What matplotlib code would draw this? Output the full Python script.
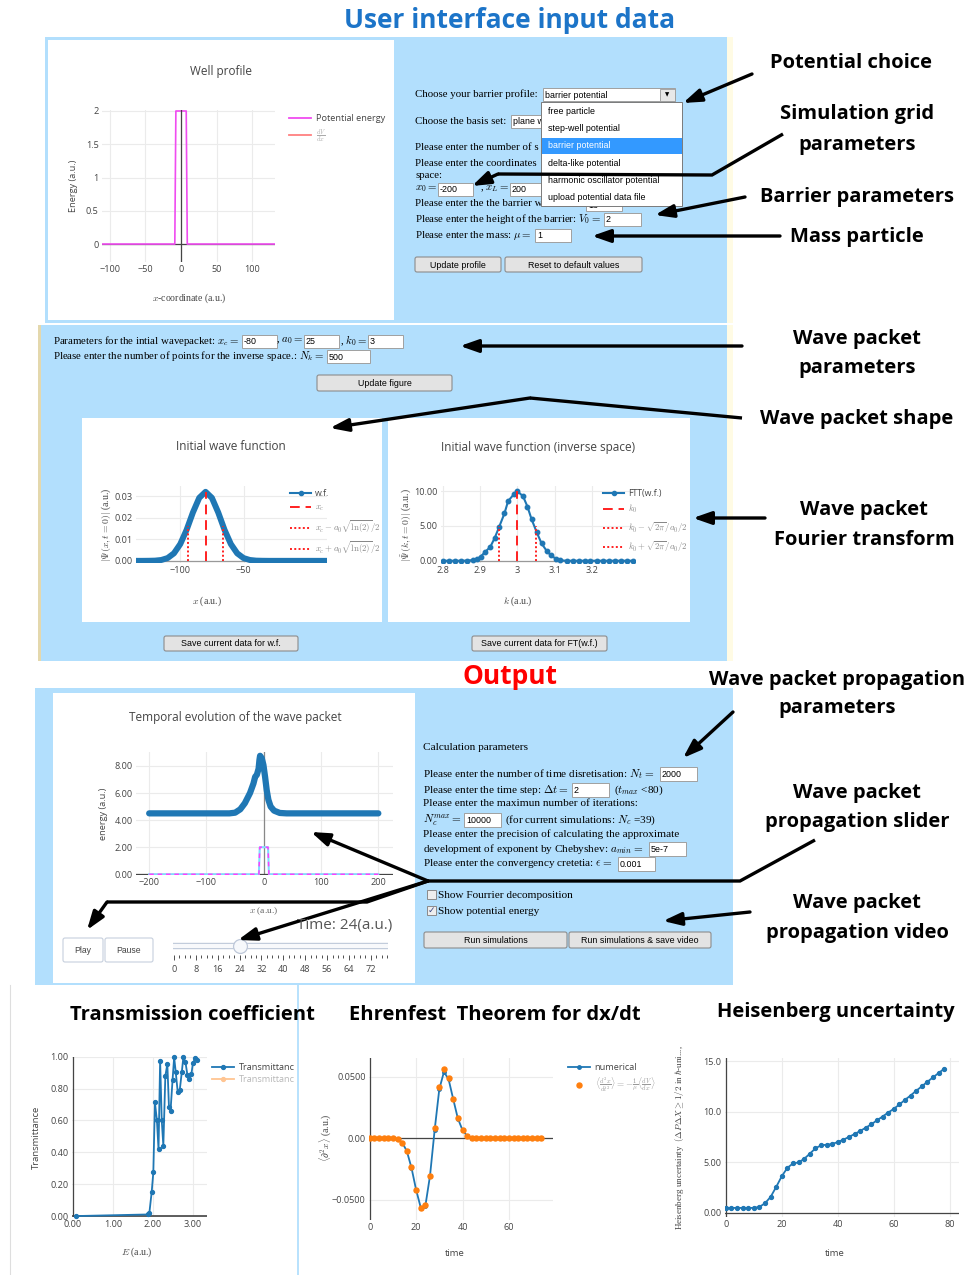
import matplotlib
matplotlib.use('Agg')
import matplotlib.pyplot as plt
from matplotlib.patches import Rectangle, FancyBboxPatch
from matplotlib.lines import Line2D
from matplotlib.ticker import FuncFormatter

plt.rcParams['mathtext.fontset'] = 'cm'
plt.rcParams['font.family'] = ['Open Sans', 'DejaVu Sans']

# ------------------------------------------------------------------ data
pot_x = [-200, -8.5, -7, 7.5, 9, 200]
pot_v = [0, 0, 2, 2, 0, 0]
well_xticks = [-100, -50, 0, 50, 100]
well_yticks = [0, 0.5, 1, 1.5, 2]

wf_x = [-135, -130, -125, -120, -115, -110, -105, -100, -95, -90, -85, -80,
        -75, -70, -65, -60, -55, -50, -45, -40, -35, -30, -25, -20, -15,
        -10, -5, 0, 5, 10, 16]
wf_y = [0, 0, 0.00003, 0.0001, 0.0004, 0.0013, 0.0035, 0.0078, 0.0144, 0.0225,
        0.0293, 0.0321, 0.0293, 0.0225, 0.0144, 0.0078, 0.0035, 0.0013, 0.0004,
        0.0001, 0.00003, 0, 0, 0, 0, 0, 0, 0, 0, 0, 0]
wf_xc = -80
wf_half_x = [-93.5, -66.5]
wf_half_h = 0.016
wf_xticks = [-100, -50]
wf_yticks = [0, 0.01, 0.02, 0.03]

ft_k = [2.800, 2.816, 2.832, 2.849, 2.865, 2.881, 2.890, 2.901, 2.912, 2.927,
        2.939, 2.951, 2.965, 2.975, 2.991, 3.000, 3.015, 3.027, 3.038, 3.052,
        3.065, 3.079, 3.090, 3.103, 3.116, 3.133, 3.149, 3.165, 3.181, 3.197,
        3.214, 3.230, 3.246, 3.262, 3.278, 3.296, 3.312]
ft_v = [0, 0, 0, 0, 0.02, 0.1, 0.2, 0.6, 1.2, 2.0,
        3.3, 4.9, 6.8, 8.6, 9.6, 10.0, 9.3, 7.8, 6.0, 4.1,
        2.5, 1.4, 0.8, 0.3, 0.05, 0, 0, 0, 0, 0,
        0, 0, 0, 0, 0, 0, 0]
ft_k0 = 3.0
ft_half_k = [2.95, 3.05]
ft_half_h = 5.0
ft_xticks = [2.8, 2.9, 3.0, 3.1, 3.2]
ft_yticks = [0, 5, 10]

tw_x = [-200, -150, -100, -60, -50, -41, -33, -24, -18, -15, -12, -9, -7.5,
        -6.4, -3.5, -0.6, 2.3, 5.2, 8.1, 12, 18, 28, 40, 100, 150, 200]
tw_y = [4.5, 4.5, 4.5, 4.5, 4.55, 4.8, 5.25, 6.0, 6.7, 7.2, 7.35, 7.8, 8.45,
        8.75, 8.57, 8.08, 7.2, 6.2, 5.5, 5.0, 4.7, 4.53, 4.5, 4.5, 4.5, 4.5]
tw_xticks = [-200, -100, 0, 100, 200]
tw_yticks = [0, 2, 4, 6, 8]

slider_frames = [0, 2, 4, 6, 8, 10, 12, 14, 16, 18, 20, 22, 24, 26, 28, 30, 32,
                 34, 36, 38, 40, 42, 44, 46, 48, 50, 52, 54, 56, 58, 60, 62, 64,
                 66, 68, 70, 72, 74, 76, 78]
slider_labels = [0, 8, 16, 24, 32, 40, 48, 56, 64, 72]
slider_value = 24

tr_E = [0.08, 1.87, 1.91, 1.97, 2.01, 2.05, 2.10, 2.14, 2.18, 2.22, 2.26, 2.31,
        2.36, 2.40, 2.44, 2.49, 2.53, 2.57, 2.62, 2.67, 2.72, 2.76, 2.81, 2.86,
        2.91, 2.96, 3.00, 3.06, 3.11]
tr_T = [0.0, 0.01, 0.017, 0.153, 0.274, 0.713, 0.60, 0.418, 0.975, 0.60, 0.441,
        0.879, 0.954, 0.686, 0.661, 0.854, 0.996, 0.902, 0.776, 0.791, 0.902,
        0.996, 0.969, 0.887, 0.858, 0.891, 0.962, 0.99, 0.979]
tr_xticks = [0, 1, 2, 3]
tr_yticks = [0, 0.2, 0.4, 0.6, 0.8, 1.0]

eh_t = [0, 2, 4, 6, 8, 10, 12, 14, 16, 18, 20, 22, 24, 26, 28, 30, 32, 34, 36,
        38, 40, 42, 44, 46, 48, 50, 52, 54, 56, 58, 60, 62, 64, 66, 68, 70, 72, 74]
eh_num = [0, 0, 0, 0, 0, 0, -0.0008, -0.0035, -0.0105, -0.0240, -0.0420, -0.0565,
          -0.0550, -0.0305, 0.0068, 0.0400, 0.0540, 0.0480, 0.0318, 0.0160, 0.0066,
          0.0018, 0.0003, 0, 0, 0, 0, 0, 0, 0, 0, 0, 0, 0, 0, 0, 0, 0]
eh_ehr = [0, 0, 0, 0, 0, 0, -0.0008, -0.0035, -0.0103, -0.0238, -0.0419, -0.0568,
          -0.0546, -0.0305, 0.0081, 0.0419, 0.0562, 0.0492, 0.0319, 0.0162, 0.0068,
          0.0019, 0.0003, 0, 0, 0, 0, 0, 0, 0, 0, 0, 0, 0, 0, 0, 0, 0]
eh_xticks = [0, 20, 40, 60]
eh_yticks = [-0.05, 0, 0.05]
eh_yticklabels = ['\u22120.0500', '0.00', '0.0500']

hu_t = [0, 2, 4, 6, 8, 10, 12, 14, 16, 18, 20, 22, 24, 26, 28, 30, 32, 34, 36, 38,
        40, 42, 44, 46, 48, 50, 52, 54, 56, 58, 60, 62, 64, 66, 68, 70, 72, 74, 76, 78]
hu_v = [0.5, 0.5, 0.5, 0.5, 0.5, 0.5, 0.6, 0.96, 1.59, 2.58, 3.64, 4.47, 4.90, 5.0,
        5.36, 5.86, 6.39, 6.69, 6.75, 6.82, 7.02, 7.25, 7.52, 7.81, 8.11, 8.44,
        8.77, 9.17, 9.54, 9.93, 10.3, 10.73, 11.19, 11.62, 12.09, 12.52, 12.98,
        13.41, 13.84, 14.27]
hu_xticks = [0, 20, 40, 60, 80]
hu_yticks = [0, 5, 10, 15]
hu_yticklabels = ['0.00', '5.00', '10.0', '15.0']

barrier_options = ['free particle', 'step-well potential', 'barrier potential',
                   'delta-like potential', 'harmonic oscillator potential',
                   'upload potential data file']

# ------------------------------------------------------------------ style
W, H = 971, 1275
LB = '#b2dffd'
BLUE = '#1f77b4'
ORANGE = '#ff7f0e'
MAG = '#f04cf0'
SERIF = ['Liberation Serif', 'DejaVu Serif']
SANS = ['Open Sans', 'DejaVu Sans']
UI = ['Liberation Sans', 'DejaVu Sans']
BOLD = ['Open Sans', 'DejaVu Sans']
TC = '#444444'
FS_TOP = 7.8
FS_MID = 7.8
FS_OUT = 8.1
UIS = 6.4

fig = plt.figure(figsize=(W / 100, H / 100), dpi=100, facecolor='white')


def px(x, y, w, h):
    return [x / W, 1 - (y + h) / H, w / W, h / H]


bg = fig.add_axes([0, 0, 1, 1], zorder=0)
bg.set_xlim(0, W)
bg.set_ylim(H, 0)
bg.axis('off')

ov = fig.add_axes([0, 0, 1, 1], zorder=20)
ov.set_xlim(0, W)
ov.set_ylim(H, 0)
ov.axis('off')
ov.patch.set_alpha(0)


def txt(x, y, s, size=7, fam=SERIF, color='black', ha='left', va='center',
        weight='normal', rot=0, ax=None, z=3, alpha=1):
    (ax or bg).text(x, y, s, fontsize=size, family=fam, color=color, ha=ha,
                    va=va, fontweight=weight, rotation=rot, zorder=z, alpha=alpha)


def rect(x, y, w, h, fc, ec='none', lw=0.8, z=1, ax=None):
    (ax or bg).add_patch(Rectangle((x, y), w, h, facecolor=fc, edgecolor=ec,
                                   lw=lw, zorder=z))


def inbox(x, y, w, h, s, z=2):
    rect(x, y, w, h, 'white', '#a0a0a0', 0.7, z)
    txt(x + 2, y + h / 2 + 0.5, s, size=UIS, fam=UI, z=z + 0.1)


def button(x, y, w, h, s, fc='#e3e3e3', ec='#8c8c8c', size=UIS, color='black'):
    bg.add_patch(FancyBboxPatch((x, y), w, h, boxstyle='round,pad=0,rounding_size=2',
                                facecolor=fc, edgecolor=ec, lw=0.8, zorder=2))
    txt(x + w / 2, y + h / 2 + 0.5, s, size=size, fam=UI, ha='center', z=3, color=color)


def arrow(pts, lw=2.4):
    if len(pts) > 2:
        ov.plot([p[0] for p in pts[:-1]], [p[1] for p in pts[:-1]], color='k',
                lw=lw, solid_joinstyle='miter', solid_capstyle='butt')
    ov.annotate('', xy=pts[-1], xytext=pts[-2],
                arrowprops=dict(arrowstyle='-|>,head_length=1.0,head_width=0.35',
                                lw=lw, color='k', shrinkA=0, shrinkB=0,
                                mutation_scale=11))


def line(pts, lw=2.4):
    ov.plot([p[0] for p in pts], [p[1] for p in pts], color='k', lw=lw,
            solid_joinstyle='miter', solid_capstyle='butt')


def ufmt(fmt):
    return FuncFormatter(lambda v, p: (fmt % v).replace('-', '\u2212'))


def pstyle(ax, xt, yt, xfmt='%g', yfmt='%g'):
    for s in ax.spines.values():
        s.set_visible(False)
    ax.set_xticks(xt)
    ax.set_yticks(yt)
    ax.xaxis.set_major_formatter(ufmt(xfmt))
    ax.yaxis.set_major_formatter(ufmt(yfmt))
    ax.grid(True, color='#ebebeb', lw=0.8)
    ax.set_axisbelow(True)
    ax.tick_params(length=0, labelsize=6.6, colors=TC, pad=2.5)
    for t in ax.get_xticklabels() + ax.get_yticklabels():
        t.set_family(SANS)
    ax.set_facecolor('white')


def legend(ax, handles, labels, x, y, size=6.6, colors=None, spacing=0.55):
    leg = ax.legend(handles, labels, loc='upper left', bbox_to_anchor=(x, y),
                    bbox_transform=bg.transData, frameon=False, fontsize=size,
                    handlelength=2.4, handletextpad=0.5, labelspacing=spacing,
                    borderpad=0, borderaxespad=0, prop={'family': SANS, 'size': size})
    for i, t in enumerate(leg.get_texts()):
        t.set_color(colors[i] if colors else TC)
    return leg


# ------------------------------------------------------------------ panels
rect(45, 37, 683, 286, LB)
rect(727, 37, 6, 286, '#fffbe4')
rect(48, 40, 346, 280, 'white')
rect(38, 325, 690, 336, LB)
rect(38, 325, 3, 336, '#e4d8ad')
rect(727, 325, 6, 336, '#fffbe4')
rect(82, 418, 300, 204, 'white')
rect(388, 418, 302, 204, 'white')
rect(35, 688, 698, 297, LB)
rect(53, 693, 362, 290, 'white')
bg.plot([10, 10], [985, 1275], color='#dedede', lw=0.8, zorder=1)
bg.plot([298, 298], [985, 1275], color=LB, lw=1.3, zorder=1)

# ------------------------------------------------------------------ headings
txt(510, 20, 'User interface input data', size=19, fam=BOLD, weight='bold',
    color='#1c74c8', ha='center')
txt(510, 676, 'Output', size=19, fam=BOLD, weight='bold', color='#ff0000', ha='center')
ann = [('Potential choice', 851, 63), ('Simulation grid', 857, 114),
       ('parameters', 857, 145), ('Barrier parameters', 857, 197),
       ('Mass particle', 857, 237), ('Wave packet', 857, 339),
       ('parameters', 857, 368), ('Wave packet shape', 857, 419),
       ('Wave packet', 864, 510), ('Fourier transform', 864, 540),
       ('Wave packet propagation', 837, 680), ('parameters', 837, 708),
       ('Wave packet', 857, 793), ('propagation slider', 857, 822),
       ('Wave packet', 857, 903), ('propagation video', 857, 933),
       ('Transmission coefficient', 192, 1015),
       ('Ehrenfest  Theorem for dx/dt', 495, 1015),
       ('Heisenberg uncertainty', 836, 1012)]
for s, x, y in ann:
    txt(x, y, s, size=14.5, fam=BOLD, weight='bold', ha='center', z=4)

# ------------------------------------------------------------------ top form
txt(415, 94, 'Choose your barrier profile:', size=FS_TOP)
inbox(543, 88, 132, 13, barrier_options[2])
rect(660, 88.5, 15, 12, '#e8e8e8', '#9a9a9a', 0.6, 2.5)
txt(667.5, 95, '\u25bc', size=4, fam=['DejaVu Sans'], ha='center', z=3)
txt(415, 121, 'Choose the basis set:', size=FS_TOP)
inbox(511, 115, 35, 13, 'plane wave')
txt(415, 148, 'Please enter the number of s', size=FS_TOP)
txt(415, 163, 'Please enter the coordinates', size=FS_TOP)
txt(415, 175, 'space:', size=FS_TOP)
txt(415, 189, r'$x_0=$', size=FS_TOP)
inbox(438, 183, 35, 13, '-200')
txt(509, 189, r', $x_L=$', ha='right', size=FS_TOP)
inbox(510, 183, 35, 13, '200')
txt(415, 204, 'Please enter the the barrier w', size=FS_TOP)
inbox(586, 198, 36, 13, '16')
txt(415, 219, r'Please enter the height of the barrier: $V_0=$', size=FS_TOP)
inbox(604, 213, 37, 13, '2')
txt(415, 235, r'Please enter the mass: $\mu=$', size=FS_TOP)
inbox(535, 229, 36, 13, '1')
button(415, 257, 86, 15, 'Update profile')
button(505, 257, 137, 15, 'Reset to default values')
# dropdown list
rect(541, 102, 141, 104, 'white', '#7a7a7a', 0.7, 5)
rect(541.5, 138, 140, 16, '#3399ff', 'none', 0, 5.2)
for i, opt in enumerate(barrier_options):
    txt(548, 111 + i * 17.4, opt, size=UIS, fam=UI, z=5.5,
        color='white' if i == 2 else 'black')

# ------------------------------------------------------------------ middle form
txt(53, 341, r'Parameters for the intial wavepacket: $x_c=$', size=FS_MID)
inbox(242, 335, 35, 13, '-80')
txt(303, 341, r', $a_0=$', ha='right', size=FS_MID)
inbox(304, 335, 35, 13, '25')
txt(367, 341, r', $k_0=$', ha='right', size=FS_MID)
inbox(368, 335, 35, 13, '3')
txt(53, 356, r'Please enter the number of points for the inverse space.: $N_k=$', size=FS_MID)
inbox(327, 350, 43, 13, '500')
button(317, 375, 135, 16, 'Update figure')
button(164, 636, 134, 15, 'Save current data for w.f.')
button(472, 636, 135, 15, 'Save current data for FT(w.f.)')

# ------------------------------------------------------------------ output form
txt(423, 747, 'Calculation parameters', size=FS_OUT)
txt(423, 774, r'Please enter the number of time disretisation: $N_t=$', size=FS_OUT)
inbox(660, 767, 37, 14, '2000')
txt(423, 790, r'Please enter the time step: $\Delta t=$', size=FS_OUT)
inbox(572, 783, 37, 14, '2')
txt(614, 790, r'($t_{max}$ <80)', size=FS_OUT)
txt(423, 804, 'Please enter the maximun number of iterations:', size=FS_OUT)
txt(423, 820, r'$N_c^{max}=$', size=FS_OUT)
inbox(464, 813, 37, 14, '10000')
txt(505, 820, r'(for current simulations: $N_c$ =39)', size=FS_OUT)
txt(423, 834, 'Please enter the precision of calculating the approximate', size=FS_OUT)
txt(423, 849, r'development of exponent by Chebyshev: $a_{min}=$', size=FS_OUT)
inbox(649, 842, 37, 14, '5e-7')
txt(423, 864, r'Please enter the convergency cretetia: $\epsilon=$', size=FS_OUT)
inbox(618, 857, 37, 14, '0.001')
rect(427, 890, 9, 9, '#eeeeee', '#8a8a8a', 0.7, 2)
txt(438, 895, 'Show Fourrier decomposition', size=FS_OUT)
rect(427, 906, 9, 9, '#eeeeee', '#8a8a8a', 0.7, 2)
txt(431.5, 910, '\u2713', size=6.5, fam=['DejaVu Sans'], ha='center', color='#3a4a8a')
txt(438, 911, 'Show potential energy', size=FS_OUT)
button(424, 932, 143, 16, 'Run simulations')
button(569, 932, 142, 16, 'Run simulations & save video')
button(63, 938, 40, 24, 'Play', fc='white', ec='#c6cfdd', size=6.2, color=TC)
button(105, 938, 48, 24, 'Pause', fc='white', ec='#c6cfdd', size=6.2, color=TC)

# ------------------------------------------------------------------ well profile
txt(221, 71, 'Well profile', size=8.5, fam=SANS, color=TC, ha='center')
ax1 = fig.add_axes(px(102, 110, 173, 152), zorder=5)
ax1.plot(pot_x, pot_v, color=MAG, lw=1.2, zorder=3)
ax1.axvline(0, color='#444444', lw=0.9, zorder=4)
ax1.axhline(0, color='#444444', lw=0.9, zorder=2)
ax1.set_xlim(-110.6, 132)
ax1.set_ylim(-0.27, 2.015)
pstyle(ax1, well_xticks, well_yticks)
legend(ax1, [Line2D([], [], color=MAG, lw=1.3), Line2D([], [], color='#ff8080', lw=1.3)],
       ['Potential energy', r'$\frac{dV}{dx}$'], 289, 114, size=6.6,
       colors=[TC, '#aaaaaa'], spacing=0.45)
txt(73, 186, 'Energy (a.u.)', size=6.6, fam=SANS, color=TC, rot=90, ha='center')
txt(189, 298, r'$x$-coordinate (a.u.)', size=7, fam=SERIF, color=TC, ha='center')

# ------------------------------------------------------------------ initial wf
txt(231, 447, 'Initial wave function', size=8.5, fam=SANS, color=TC, ha='center')
ax2 = fig.add_axes(px(136, 486, 191, 77), zorder=5)
ax2.axhline(0, color='#999999', lw=0.9, zorder=1)
ax2.plot(wf_x, wf_y, color=BLUE, lw=4.3, zorder=3, solid_joinstyle='round')
ax2.vlines([wf_xc], 0, max(wf_y), colors='#ff2020', lw=1.4, linestyles=(0, (5, 3)), zorder=4)
ax2.vlines(wf_half_x, 0, wf_half_h, colors='#ff2020', lw=1.4, linestyles=(0, (1, 1.2)), zorder=4)
ax2.set_xlim(-135, 16)
ax2.set_ylim(-0.001, 0.0348)
pstyle(ax2, wf_xticks, wf_yticks, yfmt='%.2f')
legend(ax2, [Line2D([], [], color=BLUE, lw=1.5, marker='o', ms=3),
             Line2D([], [], color='#ff2020', lw=1.4, dashes=(5, 3)),
             Line2D([], [], color='#ff2020', lw=1.4, dashes=(1, 1.2)),
             Line2D([], [], color='#ff2020', lw=1.4, dashes=(1, 1.2))],
       ['w.f.', r'$x_c$', r'$x_c-a_0\sqrt{\ln(2)}/2$', r'$x_c+a_0\sqrt{\ln(2)}/2$'],
       290, 489, size=6.3, colors=[TC, '#888888', '#888888', '#888888'], spacing=0.55)
txt(106, 525, r'$|\Psi(x,t=0)|$ (a.u.)', size=7, color=TC, rot=90, ha='center')
txt(207, 601, r'$x$ (a.u.)', size=7, color=TC, ha='center')

# ------------------------------------------------------------------ FT
txt(538, 447, 'Initial wave function (inverse space)', size=8.5, fam=SANS, color=TC, ha='center')
ax3 = fig.add_axes(px(441, 486, 194, 77), zorder=5)
ax3.axhline(0, color='#999999', lw=0.9, zorder=1)
ax3.plot(ft_k, ft_v, color=BLUE, lw=1.5, marker='o', ms=3.2, zorder=3)
ax3.vlines([ft_k0], 0, max(ft_v), colors='#ff2020', lw=1.4, linestyles=(0, (5, 3)), zorder=4)
ax3.vlines(ft_half_k, 0, ft_half_h, colors='#ff2020', lw=1.4, linestyles=(0, (1, 1.2)), zorder=4)
ax3.set_xlim(2.794, 3.317)
ax3.set_ylim(-0.33, 10.76)
pstyle(ax3, ft_xticks, ft_yticks, yfmt='%.2f')
legend(ax3, [Line2D([], [], color=BLUE, lw=1.5, marker='o', ms=3),
             Line2D([], [], color='#ff2020', lw=1.4, dashes=(5, 3)),
             Line2D([], [], color='#ff2020', lw=1.4, dashes=(1, 1.2)),
             Line2D([], [], color='#ff2020', lw=1.4, dashes=(1, 1.2))],
       ['FTT(w.f.)', r'$k_0$', r'$k_0-\sqrt{2\pi}/a_0/2$', r'$k_0+\sqrt{2\pi}/a_0/2$'],
       603, 489, size=6.3, colors=[TC, '#888888', '#888888', '#888888'], spacing=0.55)
txt(407, 525, r'$|\tilde{\Psi}(k,t=0)|$ (a.u.)', size=7, color=TC, rot=90, ha='center')
txt(518, 601, r'$k$ (a.u.)', size=7, color=TC, ha='center')

# ------------------------------------------------------------------ temporal evolution
txt(235, 718, 'Temporal evolution of the wave packet', size=8.5, fam=SANS, color=TC, ha='center')
ax4 = fig.add_axes(px(136, 752, 257, 123), zorder=5)
ax4.axvline(0, color='#888888', lw=0.9, zorder=1)
ax4.axhline(0, color='#444444', lw=0.9, zorder=1)
ax4.plot(pot_x, pot_v, color='#80dcff', lw=1.5, zorder=2)
ax4.plot(pot_x, pot_v, color='#ff40ff', lw=1.1, dashes=(3, 2.5), zorder=2.5)
ax4.plot(tw_x, tw_y, color=BLUE, lw=4.5, zorder=3, solid_joinstyle='round',
         solid_capstyle='round')
ax4.set_xlim(-223, 225.6)
ax4.set_ylim(-0.05, 9.03)
pstyle(ax4, tw_xticks, tw_yticks, yfmt='%.2f')
txt(104, 814, 'energy (a.u.)', size=6.6, fam=SANS, color=TC, rot=90, ha='center')
txt(264, 911, r'$x$ (a.u.)', size=6.8, color='#666666', ha='center')
txt(392, 926, 'Time: 24(a.u.)', size=11, fam=SANS, color='#555555', ha='right', z=25,
    ax=ov)

# slider
axs = fig.add_axes(px(173, 938, 215, 17), zorder=6)
axs.set_xlim(-0.37, 78.3)
axs.set_ylim(17, 0)
axs.plot([slider_frames[0] - 0.3, slider_frames[-1] + 0.3], [8, 8], color='#bec8d9',
         lw=4.6, solid_capstyle='round')
axs.plot([slider_frames[0] - 0.3, slider_frames[-1] + 0.3], [8, 8], color='#f8f9fb',
         lw=3.0, solid_capstyle='round')
axs.plot([slider_value], [8], marker='o', ms=10, mfc='#f6f8fb', mec='#bec8d9', mew=0.9)
for s in axs.spines.values():
    s.set_visible(False)
axs.set_yticks([])
axs.set_xticks(slider_labels)
axs.set_xticks(slider_frames, minor=True)
axs.tick_params(axis='x', which='major', length=3.5, width=0.6, color='#333333',
                labelsize=6.6, labelcolor=TC, pad=4)
axs.tick_params(axis='x', which='minor', length=2.2, width=0.6, color='#333333')
for t in axs.get_xticklabels():
    t.set_family(SANS)
axs.patch.set_alpha(0)

# ------------------------------------------------------------------ transmittance
ax5 = fig.add_axes(px(72, 1056.7, 135, 160), zorder=5)
ax5.axvline(0, color='#444444', lw=0.9, zorder=1)
ax5.axhline(0, color='#444444', lw=1.2, zorder=1)
ax5.plot(tr_E, tr_T, color=BLUE, lw=1.3, marker='o', ms=2.8, zorder=3, clip_on=False)
ax5.set_xlim(-0.02, 3.35)
ax5.set_ylim(-0.004, 1.0)
pstyle(ax5, tr_xticks, tr_yticks, xfmt='%.2f', yfmt='%.2f')
legend(ax5, [Line2D([], [], color=BLUE, lw=1.3, marker='o', ms=2.8),
             Line2D([], [], color='#ffc592', lw=1.3, marker='o', ms=2.8)],
       ['Transmittanc', 'Transmittanc'], 212, 1063, size=6.6,
       colors=[TC, '#b8b8b8'], spacing=0.35)
txt(36, 1137, 'Transmittance', size=6.8, fam=SANS, color=TC, rot=90, ha='center')
txt(137, 1252, r'$E$ (a.u.)', size=7, color=TC, ha='center')

# ------------------------------------------------------------------ Ehrenfest
ax6 = fig.add_axes(px(369, 1058, 184, 162), zorder=5)
ax6.axvline(0, color='#444444', lw=0.9, zorder=1)
ax6.axhline(0, color='#444444', lw=0.9, zorder=1)
ax6.plot(eh_t, eh_num, color=BLUE, lw=1.3, marker='o', ms=2.5, zorder=3)
ax6.plot(eh_t, eh_ehr, color=ORANGE, lw=0, marker='o', ms=3.6, zorder=4)
ax6.set_xlim(-0.3, 79)
ax6.set_ylim(-0.0666, 0.0653)
pstyle(ax6, eh_xticks, eh_yticks)
ax6.set_yticklabels(eh_yticklabels)
for t in ax6.get_yticklabels():
    t.set_family(SANS)
legend(ax6, [Line2D([], [], color=BLUE, lw=1.3, marker='o', ms=2.5),
             Line2D([], [], color=ORANGE, lw=0, marker='o', ms=3.6)],
       ['numerical', r'$\langle\frac{d^2x}{dt^2}\rangle=-\frac{1}{\mu}\langle\frac{dV}{dx}\rangle$'],
       568, 1063, size=6.6, colors=[TC, '#999999'], spacing=0.4)
txt(325, 1138, r'$\langle\partial^2 x\rangle$ (a.u.)', size=7, color=TC, rot=90, ha='center')
txt(455, 1253, 'time', size=6.8, fam=SANS, color=TC, ha='center')

# ------------------------------------------------------------------ Heisenberg
ax7 = fig.add_axes(px(725, 1058, 234, 159), zorder=5)
ax7.axvline(0, color='#444444', lw=0.9, zorder=1)
ax7.axhline(0, color='#444444', lw=0.9, zorder=1)
ax7.plot(hu_t, hu_v, color=BLUE, lw=1.3, marker='o', ms=2.8, zorder=3)
ax7.set_xlim(-0.3, 83.3)
ax7.set_ylim(-0.4, 15.33)
pstyle(ax7, hu_xticks, hu_yticks)
ax7.set_yticklabels(hu_yticklabels)
for t in ax7.get_yticklabels():
    t.set_family(SANS)
txt(680, 1138,
    r'Heisenberg uncertainty  $(\Delta P\Delta X\geq 1/2$ in $\hbar$-uni...,',
    size=6.5, color=TC, rot=90, ha='center')
txt(835, 1253, 'time', size=6.8, fam=SANS, color=TC, ha='center')

# ------------------------------------------------------------------ arrows
arrow([(752, 74), (683, 103)])
arrow([(783, 134), (712, 175), (498, 174), (472, 186)])
arrow([(745, 197), (655, 215)])
arrow([(780, 236), (592, 236)])
arrow([(742, 346), (460, 346)])
arrow([(742, 418), (530, 398), (330, 428)])
arrow([(765, 518), (693, 518)])
arrow([(733, 712), (683, 758)])
line([(815, 840), (740, 881), (428, 881)])
arrow([(428, 881), (311, 832)])
arrow([(428, 881), (238, 940)])
arrow([(428, 881), (367, 902), (107, 902), (87, 930)])
arrow([(750, 912), (663, 921)])

fig.savefig('out.png', dpi=100, facecolor='white')
